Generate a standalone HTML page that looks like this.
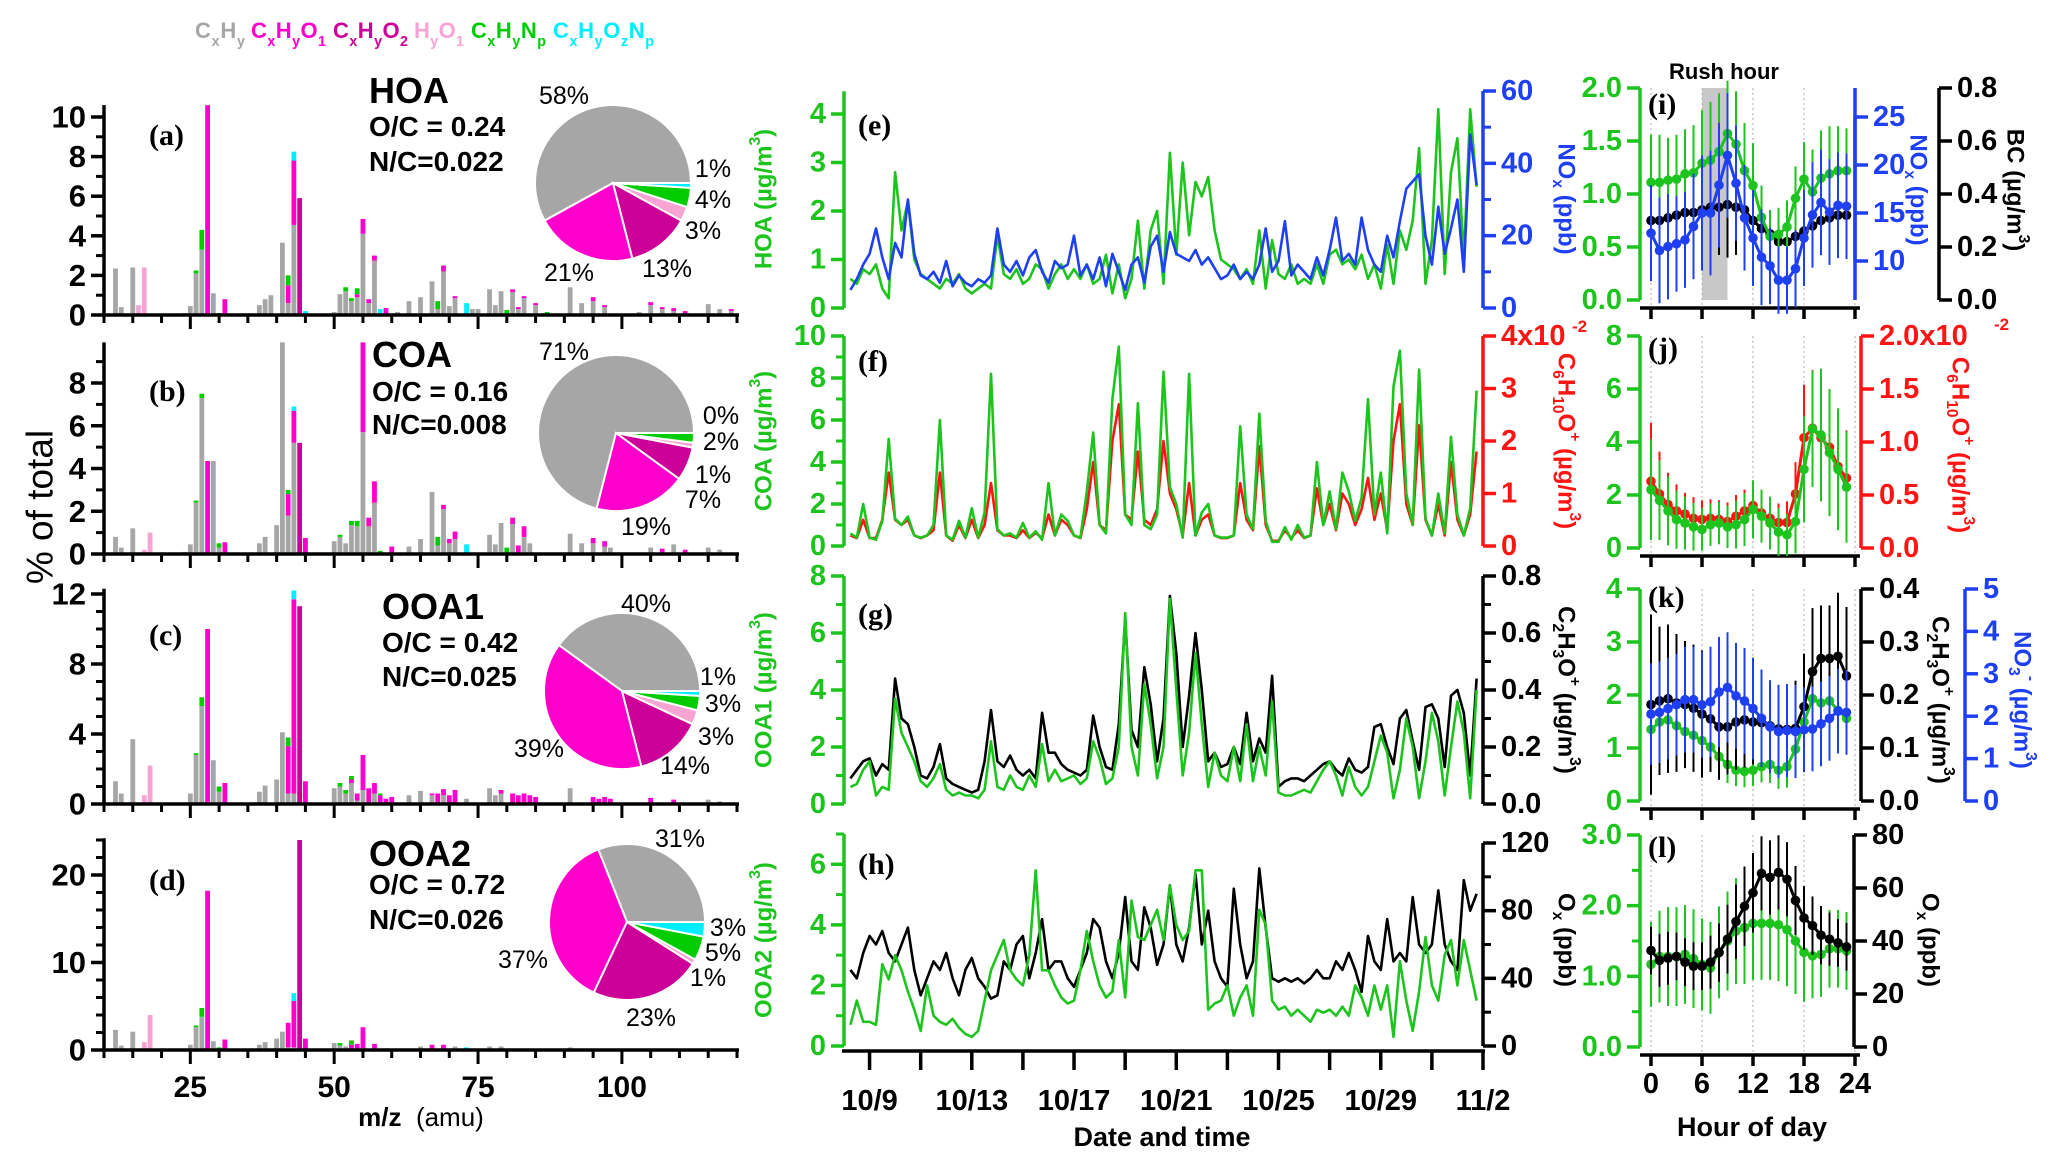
<!DOCTYPE html>
<html><head><meta charset="utf-8">
<style>
html,body{margin:0;padding:0;background:#fff;}
svg{display:block;font-family:"Liberation Sans",sans-serif;}
</style></head>
<body>
<svg id="fig" width="2067" height="1162" viewBox="0 0 2067 1162" xmlns="http://www.w3.org/2000/svg"></svg>
<script>
// ---------- DATA ----------
const famColors = ['#a6a6a6','#ff00cc','#cc0099','#f7a3d4','#00cc00','#00eeff'];
const legendHTML = ['C<tspan baseline-shift="sub" font-size="65%">x</tspan>H<tspan baseline-shift="sub" font-size="65%">y</tspan>',
 'C<tspan baseline-shift="sub" font-size="65%">x</tspan>H<tspan baseline-shift="sub" font-size="65%">y</tspan>O<tspan baseline-shift="sub" font-size="65%">1</tspan>',
 'C<tspan baseline-shift="sub" font-size="65%">x</tspan>H<tspan baseline-shift="sub" font-size="65%">y</tspan>O<tspan baseline-shift="sub" font-size="65%">2</tspan>',
 'H<tspan baseline-shift="sub" font-size="65%">y</tspan>O<tspan baseline-shift="sub" font-size="65%">1</tspan>',
 'C<tspan baseline-shift="sub" font-size="65%">x</tspan>H<tspan baseline-shift="sub" font-size="65%">y</tspan>N<tspan baseline-shift="sub" font-size="65%">p</tspan>',
 'C<tspan baseline-shift="sub" font-size="65%">x</tspan>H<tspan baseline-shift="sub" font-size="65%">y</tspan>O<tspan baseline-shift="sub" font-size="65%">z</tspan>N<tspan baseline-shift="sub" font-size="65%">p</tspan>'];

// spectra rows: [m/z, CxHy, CxHyO1, CxHyO2, HyO1, CxHyNp, CxHyOzNp]
const specHOA = [[12,2.35,0,0,0,0,0],[13,0.4,0,0,0,0,0],[15,2.4,0,0,0,0,0],[16,0,0,0,0.5,0,0],[17,0,0,0,2.4,0,0],[24,0.1,0,0,0,0,0],[25,0.45,0,0,0,0,0],[26,2.1,0,0,0,0.15,0],[27,3.3,0,0,0,1.0,0],[28,0,10.6,0,0,0,0],[29,1.1,0,0,0,0,0],[30,0,0,0,0,0.1,0],[31,0,0.8,0,0,0,0],[37,0.5,0,0,0,0,0],[38,0.8,0,0,0,0,0],[39,1.0,0,0,0,0,0],[41,3.65,0,0,0,0,0],[42,0.6,0.9,0,0,0.5,0],[43,4.55,3.25,0,0,0,0.45],[44,0,0,5.9,0,0,0],[45,0,0,0,0,0,0.2],[50,0.15,0,0,0,0,0],[51,1.05,0,0,0,0,0],[52,1.2,0,0,0,0.2,0],[53,0.7,0,0,0,0.15,0],[54,0.9,0.15,0,0,0.3,0],[55,4.1,0.75,0,0,0,0],[56,0.6,0.2,0,0,0,0],[57,2.75,0.25,0,0,0,0],[58,0,0,0,0,0,0.3],[59,0,0.35,0,0,0,0],[61,0.15,0,0,0,0,0],[63,0.7,0,0,0,0,0],[65,0.9,0,0,0,0,0],[67,1.7,0,0,0,0,0],[68,0.3,0,0,0,0.4,0],[69,2.2,0.3,0,0,0,0],[70,0.45,0,0,0,0,0],[71,0.85,0.1,0,0,0,0],[73,0,0,0,0,0,0.6],[74,0.3,0,0,0,0,0],[75,0.3,0,0,0,0,0],[77,1.3,0,0,0,0,0],[78,0.5,0,0,0,0,0],[79,1.2,0,0,0,0,0],[80,0,0,0,0,0.25,0],[81,1.15,0.15,0,0,0,0],[82,0.3,0.1,0,0,0,0],[83,0.85,0.1,0,0,0,0],[85,0.5,0.1,0,0,0,0],[87,0,0,0,0,0.15,0],[91,1.4,0,0,0,0,0],[93,0.6,0,0,0,0,0],[95,0.7,0.2,0,0,0,0],[97,0.4,0.1,0,0,0,0],[103,0.15,0,0,0,0,0],[105,0.5,0.15,0,0,0,0],[107,0.3,0.1,0,0,0,0],[109,0.2,0.15,0,0,0,0],[111,0.1,0.1,0,0,0,0],[115,0.55,0,0,0,0,0],[117,0.3,0,0,0,0,0],[119,0.2,0.1,0,0,0,0]];
const specCOA = [[12,0.8,0,0,0,0,0],[13,0.3,0,0,0,0,0],[15,1.2,0,0,0,0,0],[17,0,0,0,0.2,0,0],[18,0,0,0,1.0,0,0],[24,0.1,0,0,0,0,0],[25,0.45,0,0,0,0,0],[26,2.4,0,0,0,0.1,0],[27,7.3,0,0,0,0.2,0],[28,0,4.35,0,0,0,0],[29,4.35,0,0,0,0,0],[30,0.3,0,0,0,0.2,0],[31,0,0.55,0,0,0,0],[37,0.5,0,0,0,0,0],[38,0.8,0,0,0,0,0],[40,1.35,0,0,0,0,0],[41,10,0,0,0,0,0],[42,1.8,1.0,0,0,0.2,0],[43,5.2,1.5,0,0,0,0.2],[44,0,0,5.2,0,0,0],[45,0,0.75,0,0,0,0],[50,0.6,0,0,0,0,0],[51,0.8,0,0,0,0.1,0],[52,0.5,0,0,0,0,0],[53,1.35,0,0,0,0.2,0],[54,1.3,0,0,0,0.25,0],[55,5.7,4.3,0,0,0,0],[56,1.3,0.4,0,0,0,0],[57,2.4,1.0,0,0,0,0],[58,0,0,0,0,0.15,0],[60,0,0.35,0,0,0,0],[63,0.35,0,0,0,0,0],[65,0.7,0,0,0,0,0],[67,2.9,0,0,0,0,0],[68,0.4,0,0,0,0.4,0],[69,2.1,0.2,0,0,0,0],[70,0.5,0.2,0,0,0,0],[71,0.7,0.35,0,0,0,0],[73,0,0,0,0,0,0.45],[77,0.9,0,0,0,0,0],[78,0.45,0,0,0,0,0],[79,1.45,0,0,0,0,0],[80,0,0,0,0,0.3,0],[81,1.4,0.3,0,0,0,0],[82,0,0.4,0,0,0,0],[83,0.8,0.5,0,0,0,0],[84,0.5,0,0,0,0,0],[91,0.95,0,0,0,0,0],[93,0.5,0,0,0,0,0],[95,0.5,0.25,0,0,0,0],[97,0.35,0.25,0,0,0,0],[98,0.3,0,0,0,0,0],[105,0.3,0,0,0,0,0],[107,0,0.25,0,0,0,0],[109,0.45,0,0,0,0,0],[111,0,0.2,0,0,0,0],[115,0.3,0,0,0,0,0],[117,0.2,0,0,0,0,0]];
const specOOA1 = [[12,1.3,0,0,0,0,0],[13,0.6,0,0,0,0,0],[15,3.7,0,0,0,0,0],[17,0,0,0,0.5,0,0],[18,0,0,0,2.2,0,0],[24,0.1,0,0,0,0,0],[25,0.6,0,0,0,0,0],[26,2.8,0,0,0,0.1,0],[27,5.6,0,0,0,0.5,0],[28,0,10.0,0,0,0,0],[29,2.5,0,0,0,0,0],[30,0.7,0,0,0,0.3,0],[31,0,1.2,0,0,0,0],[37,0.7,0,0,0,0,0],[38,1.05,0,0,0,0,0],[40,1.4,0,0,0,0,0],[41,4.1,0,0,0,0,0],[42,0.6,2.7,0,0,0.5,0],[43,0.6,11.1,0,0,0,0.5],[44,0,0,11.3,0,0,0],[45,0,1.3,0,0,0,0],[50,0.9,0,0,0,0,0],[51,1.0,0,0,0,0.2,0],[52,0.6,0,0,0,0.2,0],[53,1.2,0.2,0,0,0.2,0],[54,0.2,0.4,0,0,0,0],[55,0.8,2.0,0,0,0,0],[56,0,0.9,0,0,0,0],[57,0.6,0.6,0,0,0,0],[58,0,0.5,0,0,0.1,0],[59,0,0.3,0,0,0,0],[60,0,0.4,0,0,0,0],[63,0.5,0,0,0,0,0],[65,0.75,0,0,0,0,0],[67,0.5,0.1,0,0,0,0],[68,0,0.6,0,0,0,0],[69,0.5,0.35,0,0,0,0],[70,0,0.5,0,0,0,0],[71,0,0.8,0,0,0,0],[73,0.3,0,0,0,0,0],[77,0.9,0,0,0,0,0],[78,0.5,0,0,0,0,0],[79,0.6,0.2,0,0,0,0],[81,0,0.6,0,0,0,0],[82,0,0.5,0,0,0,0],[83,0,0.6,0,0,0,0],[84,0,0.5,0,0,0,0],[85,0,0.4,0,0,0,0],[91,0.9,0,0,0,0,0],[95,0,0.4,0,0,0,0],[96,0,0.3,0,0,0,0],[97,0,0.4,0,0,0,0],[98,0,0.3,0,0,0,0],[105,0,0.35,0,0,0,0],[109,0,0.25,0,0,0,0],[115,0.25,0,0,0,0,0],[117,0.15,0,0,0,0,0]];
const specOOA2 = [[12,2.3,0,0,0,0,0],[13,0.5,0,0,0,0,0],[15,2.1,0,0,0,0,0],[17,0,0,0,0.9,0,0],[18,0,0,0,4.0,0,0],[25,0.6,0,0,0,0,0],[26,2.6,0,0,0,0.2,0],[27,3.8,0,0,0,1.0,0],[28,0,18.2,0,0,0,0],[29,1.0,0,0,0,0,0],[30,0,0,0,0,0.3,0],[31,0,1.2,0,0,0,0],[37,0.6,0,0,0,0,0],[38,0.9,0,0,0,0,0],[40,1.3,0,0,0,0,0],[41,2.1,0,0,0,0,0],[42,0.3,2.8,0,0,0,0],[43,0.3,5.3,0,0,0,0.9],[44,0,0,24,0,0,0],[45,0,1.3,0,0,0,0],[50,0.8,0,0,0,0,0],[51,0.5,0,0,0,0.3,0],[52,0.4,0,0,0,0,0],[53,0,0.6,0,0,0.5,0],[54,0,0.7,0,0,0,0],[55,0.2,2.4,0,0,0,0],[57,0,0.7,0,0,0,0],[59,0.2,0,0,0,0,0],[65,0.4,0,0,0,0,0],[67,0,0.6,0,0,0,0],[69,0,0.6,0,0,0,0],[71,0.4,0,0,0,0,0],[73,0,0,0,0,0,0.3],[77,0.4,0,0,0,0,0],[79,0.4,0,0,0,0,0],[91,0.3,0,0,0,0,0]];

const pieHOA = [58,21,13,3,4,1];
const pieCOA = [71,19,7,1,2,0];
const pieOOA1 = [40,39,14,3,3,1];
const pieOOA2 = [31,37,23,1,5,3];

// time series, 6-hourly from 10/8 06:00 (day 0.25)
const hoaTS = [0.6,0.5,0.8, 0.7,0.9,0.4,0.2, 2.8,1.6,2.2,1.0, 0.7,0.6,0.5,0.4, 0.6,0.5,0.7,0.4, 0.3,0.4,0.5,0.4, 1.5,0.7,0.6,0.8, 0.5,0.6,0.9,0.8, 0.4,0.7,0.9,0.6, 0.8,0.6,0.9,0.5, 0.6,1.1,0.3,0.9, 0.2,0.6,1.8,0.4, 1.6,2.0,0.5,3.2, 1.1,3.0,1.5,2.6, 2.3,2.7,1.6,1.0, 0.9,0.8,0.6,0.8, 0.5,1.6,0.4,1.4, 0.7,0.6,0.9,0.5, 0.6,0.5,0.9,0.5, 1.1,1.2,0.9,1.0, 0.8,1.1,0.6,0.9, 0.4,1.3,0.5,1.6, 1.2,1.8,3.3,0.5, 1.4,4.1,0.7,2.8, 3.5,1.0,4.1,2.5];
const noxTS = [5,8,12, 15,22,14,8, 18,14,30,15, 9,8,10,7, 13,6,9,7, 6,8,7,9, 22,12,10,13, 9,14,16,10, 7,13,11,12, 20,9,12,8, 14,6,15,10, 5,12,14,7, 17,20,10,21, 15,14,13,16, 12,14,11,8, 9,12,8,10, 8,12,22,10, 13,24,9,12, 10,8,14,9, 16,25,13,15, 12,25,16,12, 10,20,14,24, 33,35,37,20, 12,28,15,22, 30,10,48,34];
const coaTS = [0.6,0.4,2.0, 0.4,0.3,1.2,5.1, 1.3,1.0,1.4,0.5, 0.4,0.5,1.0,6.0, 0.5,0.3,1.2,0.4, 1.8,0.4,1.6,8.2, 0.8,0.5,0.6,0.4, 1.1,0.4,0.7,0.3, 3.0,0.5,1.5,1.2, 0.5,0.4,2.6,5.4, 1.0,0.6,7.0,9.5, 1.5,1.0,6.8,1.0, 0.8,1.5,8.3,2.8, 2.0,0.4,8.2,0.5, 1.6,2.0,0.5,0.4, 0.4,0.5,5.7,1.5, 0.8,6.3,1.2,0.2, 0.2,0.9,0.3,1.0, 0.4,0.5,4.0,1.0, 2.6,0.8,3.5,2.6, 1.2,2.3,7.0,1.5, 3.5,0.6,7.6,9.3, 2.5,1.0,8.4,1.3, 0.5,2.5,0.6,5.2, 1.5,0.5,1.8,7.4];
const c6TS = [0.2,0.15,0.5, 0.15,0.15,0.5,1.4, 0.5,0.4,0.5,0.2, 0.15,0.2,0.3,1.4, 0.2,0.1,0.4,0.15, 0.5,0.15,0.4,1.2, 0.3,0.2,0.2,0.15, 0.3,0.15,0.25,0.15, 0.6,0.2,0.5,0.4, 0.2,0.15,0.7,1.6, 0.4,0.3,2.0,2.7, 0.6,0.5,1.8,0.5, 0.4,0.7,2.0,1.0, 0.7,0.2,1.2,0.2, 0.5,0.6,0.2,0.15, 0.15,0.2,1.2,0.5, 0.3,1.9,0.4,0.1, 0.1,0.3,0.15,0.3, 0.15,0.2,1.1,0.4, 0.8,0.3,1.0,0.8, 0.4,0.7,1.3,0.5, 1.0,0.3,2.0,2.7, 0.8,0.4,2.3,0.5, 0.2,0.8,0.2,1.6, 0.5,0.2,0.6,1.8];
const ooa1TS = [0.6,0.7,1.2, 1.5,0.3,0.6,0.5, 3.7,2.5,2.0,1.5, 0.8,0.6,0.9,1.4, 0.5,0.3,0.4,0.3, 0.3,0.2,0.5,2.2, 0.6,0.5,1.0,0.6, 0.5,1.0,0.6,2.1, 0.8,1.2,0.8,0.9, 1.0,0.7,0.9,2.2, 1.6,0.7,0.9,2.0, 6.7,2.0,1.0,4.2, 2.8,0.9,2.0,7.2, 4.0,1.0,2.5,5.3, 2.8,0.6,1.8,1.0, 0.8,2.0,0.8,2.8, 0.8,2.0,1.0,3.6, 0.4,0.3,0.3,0.4, 0.5,0.4,0.8,1.2, 1.5,1.0,0.3,1.3, 0.6,0.3,0.6,1.5, 2.4,1.8,0.2,1.2, 3.0,2.0,0.2,1.5, 3.2,2.2,0.3,2.0, 3.6,2.5,0.2,4.0];
const c2TS = [0.09,0.12,0.15, 0.16,0.10,0.14,0.12, 0.44,0.30,0.28,0.20, 0.10,0.09,0.13,0.21, 0.09,0.07,0.06,0.05, 0.04,0.05,0.15,0.33, 0.15,0.13,0.17,0.12, 0.10,0.12,0.09,0.32, 0.18,0.18,0.14,0.12, 0.11,0.10,0.12,0.31, 0.20,0.13,0.12,0.28, 0.65,0.26,0.20,0.48, 0.35,0.15,0.30,0.73, 0.53,0.20,0.38,0.60, 0.40,0.15,0.18,0.13, 0.14,0.20,0.14,0.32, 0.15,0.23,0.18,0.45, 0.06,0.08,0.09,0.09, 0.08,0.10,0.12,0.14, 0.15,0.12,0.10,0.16, 0.12,0.11,0.13,0.27, 0.28,0.20,0.14,0.30, 0.33,0.22,0.12,0.34, 0.35,0.30,0.13,0.38, 0.40,0.32,0.10,0.44];
const ooa2TS = [0.7,1.5,0.8, 0.8,0.7,2.7,2.2, 3.0,2.5,1.8,1.2, 0.5,2.0,1.0,0.8, 0.7,0.9,0.6,0.4, 0.3,0.5,1.5,2.5, 3.0,3.5,2.5,2.2, 2.0,3.0,5.8,2.5, 2.5,2.0,1.6,1.4, 1.5,2.5,3.8,2.8, 2.0,1.6,1.8,3.5, 1.6,4.8,3.6,3.5, 4.0,4.5,3.5,5.3, 4.0,3.5,3.8,5.8, 5.8,1.2,1.4,1.5, 2.0,1.0,1.6,2.0, 1.0,4.5,4.0,1.5, 1.2,1.3,1.0,1.2, 1.0,0.8,1.2,1.1, 1.2,1.0,1.3,1.0, 2.0,1.6,1.0,2.0, 1.2,2.0,0.3,2.8, 1.5,0.5,1.8,3.6, 2.0,1.5,3.0,3.5, 2.0,3.5,2.5,1.5];
const oxTS = [45,40,55, 65,60,68,55, 50,60,70,45, 30,40,50,45, 55,40,30,45, 52,40,35,28, 30,50,45,60, 65,40,55,75, 45,50,50,40, 35,45,55,75, 70,50,40,55, 88,50,45,82, 70,48,60,95, 60,50,70,102, 60,80,50,40, 35,93,60,40, 50,105,70,40, 38,40,38,40, 37,40,45,40, 40,50,45,55, 45,32,65,50, 45,75,50,55, 50,88,60,55, 60,92,60,50, 45,98,80,90];
const dateLabels = ['10/9','10/13','10/17','10/21','10/25','10/29','11/2'];

// diurnal
const hours = [0,1,2,3,4,5,6,7,8,9,10,11,12,13,14,15,16,17,18,19,20,21,22,23];
const iHOA = [1.11,1.11,1.13,1.14,1.19,1.20,1.29,1.32,1.40,1.57,1.47,1.22,1.08,0.78,0.60,0.62,0.69,0.96,1.14,1.02,1.15,1.19,1.22,1.22];
const iHOAerr = [0.45,0.45,0.4,0.42,0.42,0.45,0.5,0.55,0.55,0.5,0.5,0.45,0.4,0.3,0.25,0.25,0.25,0.3,0.35,0.4,0.45,0.45,0.42,0.4];
const iBC = [0.30,0.30,0.31,0.32,0.33,0.33,0.34,0.35,0.35,0.36,0.35,0.34,0.30,0.27,0.25,0.22,0.22,0.24,0.26,0.28,0.30,0.31,0.32,0.32];
const iBCerr = [0.1,0.1,0.1,0.1,0.12,0.12,0.14,0.15,0.18,0.2,0.18,0.14,0.1,0.08,0.06,0.05,0.05,0.06,0.08,0.1,0.12,0.12,0.12,0.12];
const iNOx = [12.9,11.1,11.5,11.8,12.2,13.6,15.0,15.0,17.9,21.0,18.1,14.5,12.4,10.4,9.5,8.0,8.0,9.2,12.4,14.8,16.1,15.1,15.8,15.7];
const iNOxErr = [5,5.5,5.5,5,5,5.5,6,6.5,6.5,6.5,6,5.5,5,5,4,3.5,3.5,4,5,5.5,5.5,5.5,5.5,5.5];
const jCOA = [2.2,1.8,1.4,1.07,0.94,0.8,0.7,0.88,0.94,0.8,0.88,1.07,1.46,1.2,0.94,0.6,0.5,1.0,2.97,4.5,4.27,3.6,2.97,2.3];
const jCOAerr = [1.9,1.5,1.3,1.1,1.0,0.9,0.8,0.8,0.8,0.8,0.9,1.0,1.1,1.0,1.0,0.9,0.8,1.2,2.0,2.2,2.5,2.4,2.3,2.1];
const jC6 = [0.63,0.51,0.41,0.35,0.32,0.28,0.27,0.28,0.27,0.25,0.30,0.35,0.40,0.33,0.28,0.24,0.24,0.51,1.04,1.13,1.04,0.95,0.77,0.66];
const jC6err = [0.55,0.4,0.3,0.25,0.2,0.2,0.18,0.18,0.18,0.18,0.2,0.2,0.2,0.2,0.2,0.18,0.2,0.3,0.5,0.55,0.6,0.55,0.5,0.45];
const kOOA1 = [1.35,1.49,1.53,1.42,1.31,1.24,1.14,1.02,0.84,0.69,0.58,0.56,0.58,0.65,0.69,0.58,0.65,0.98,1.49,1.93,1.85,1.89,1.71,1.56];
const kOOA1err = [0.4,0.45,0.45,0.45,0.45,0.45,0.45,0.45,0.4,0.35,0.3,0.3,0.3,0.3,0.35,0.35,0.4,0.45,0.5,0.55,0.55,0.5,0.45,0.4];
const kC2 = [0.182,0.189,0.193,0.185,0.182,0.175,0.164,0.155,0.140,0.140,0.149,0.153,0.149,0.148,0.142,0.136,0.135,0.137,0.178,0.244,0.269,0.269,0.273,0.236];
const kC2err = [0.17,0.14,0.14,0.13,0.12,0.12,0.12,0.1,0.1,0.09,0.09,0.09,0.08,0.08,0.08,0.08,0.08,0.09,0.1,0.12,0.1,0.1,0.12,0.13];
const kNO3 = [2.05,2.09,2.18,2.27,2.39,2.39,2.27,2.34,2.57,2.68,2.48,2.36,2.18,1.95,1.75,1.64,1.66,1.64,1.68,1.70,1.82,1.95,2.12,2.09];
const kNO3err = [1.2,1.2,1.2,1.2,1.25,1.25,1.25,1.3,1.3,1.3,1.25,1.25,1.2,1.15,1.1,1.1,1.1,1.1,1.0,1.0,1.0,1.0,1.0,1.0];
const lOOA2 = [1.17,1.28,1.28,1.28,1.31,1.25,1.17,1.12,1.34,1.50,1.64,1.69,1.75,1.75,1.75,1.73,1.66,1.50,1.34,1.29,1.31,1.39,1.39,1.36];
const lOOA2err = [0.6,0.65,0.7,0.7,0.7,0.7,0.65,0.65,0.65,0.7,0.75,0.8,0.8,0.8,0.8,0.8,0.8,0.75,0.7,0.6,0.6,0.55,0.55,0.55];
const lOx = [36.4,32.7,33.5,34.2,32,30.5,30.5,32,35.6,40.7,47.3,53.1,58.2,65.5,64,65.9,63.3,55.3,48.7,45.8,42.2,40.7,39.3,37.8];
const lOxErr = [9,10,10,9,9,9,9,10,11,13,14,15,15,14,14,14,14,13,12,11,11,10,9,9];

// ---------- HELPERS ----------
const NS='http://www.w3.org/2000/svg';
const svg=document.getElementById('fig');
const GREEN='#1ec41e', BLUE='#1f40f2', RED='#ff1414', BLACK='#000';
function mk(tag,attrs,parent){const e=document.createElementNS(NS,tag);for(const k in attrs)e.setAttribute(k,attrs[k]);(parent||svg).appendChild(e);return e;}
function lin(d0,d1,r0,r1){return v=>r0+(v-d0)*(r1-r0)/(d1-d0);}
function tx(parent,x,y,html,size,o){o=o||{};const t=mk('text',{x:x,y:y,'font-size':size,'font-weight':o.w||'bold',fill:o.fill||'#000','text-anchor':o.anchor||'start','font-family':o.fam||'"Liberation Sans",sans-serif'},parent);if(o.dom)t.setAttribute('dominant-baseline',o.dom);if(o.rot!==undefined)t.setAttribute('transform','rotate('+o.rot+' '+x+' '+y+')');if(o.len)t.setAttribute('textLength',o.len);t.innerHTML=html;return t;}
function grp(){return mk('g',{});}

function yAxis(g,x,sc,lineLo,lineHi,majors,labels,side,color,minors,fs){
  const ln=mk('line',{x1:x,x2:x,y1:sc(lineLo),y2:sc(lineHi),stroke:color,'stroke-width':3.5},g);
  
  
  const dir=side==='L'?-1:1;
  majors.forEach((v,i)=>{
    const t=mk('line',{x1:x,x2:x+dir*13,y1:sc(v),y2:sc(v),stroke:color,'stroke-width':3.5},g);
    
    
    if(labels&&labels[i]!==''){
      const lb=tx(g,x+dir*18,sc(v),labels[i],fs||26,{fill:color,anchor:side==='L'?'end':'start',dom:'central'});
      
      
    }
  });
  (minors||[]).forEach(v=>{
    const t=mk('line',{x1:x,x2:x+dir*8,y1:sc(v),y2:sc(v),stroke:color,'stroke-width':3},g);
    
    
  });
}

// ---------- LEGEND ----------
const lg=grp();


const legX=[195,251,333,414,471,553], legW=[50,75,75,50,75,101];
legendHTML.forEach((h,i)=>{
  const t=tx(lg,legX[i],38,h,22,{fill:famColors[i],len:legW[i]});
  
  
});

// ---------- MASS SPECTRA ----------
const xM=lin(10,120,104,737);
const specPanels=[
 {spec:specHOA,pie:pieHOA,ymax:10,top:10.6,majors:[0,2,4,6,8,10],minors:[1,3,5,7,9],letter:'(a)',name:'HOA',oc:'O/C = 0.24',nc:'N/C=0.022',lx:369,ly:[103,136,171],letY:145,pc:[613,183],
  lp:[[564,96],[569,273],[667,269],[703,231],[713,200],[713,169]]},
 {spec:specCOA,pie:pieCOA,ymax:8,top:9.9,majors:[0,2,4,6,8],minors:[1,3,5,7,9],letter:'(b)',name:'COA',oc:'O/C = 0.16',nc:'N/C=0.008',lx:372,ly:[367,401,434],letY:401,pc:[616,433],
  lp:[[564,352],[646,527],[703,500],[713,475],[721,442],[721,416]]},
 {spec:specOOA1,pie:pieOOA1,ymax:12,top:12.3,majors:[0,4,8,12],minors:[1,2,3,5,6,7,9,10,11],letter:'(c)',name:'OOA1',oc:'O/C = 0.42',nc:'N/C=0.025',lx:382,ly:[619,652,686],letY:645,pc:[622,691],
  lp:[[646,604],[539,749],[685,766],[716,737],[723,704],[718,677]]},
 {spec:specOOA2,pie:pieOOA2,ymax:20,top:24.2,majors:[0,10,20],minors:[2,4,6,8,12,14,16,18,22,24],letter:'(d)',name:'OOA2',oc:'O/C = 0.72',nc:'N/C=0.026',lx:369,ly:[866,894,929],letY:890,pc:[627,922],
  lp:[[680,839],[523,960],[651,1018],[708,978],[723,953],[728,928]]}
];
const yPx={0:[315,117],1:[554,383],2:[804,594],3:[1050,875]};
specPanels.forEach((p,pi)=>{
  const g=grp();
  
  
  const ys=lin(0,p.ymax,yPx[pi][0],yPx[pi][1]);
  const topPx=ys(p.top);
  p.spec.forEach(r=>{
    let acc=0;
    for(let k=1;k<=6;k++){
      if(r[k]<=0)continue;
      const yb=Math.max(ys(acc),topPx), yt=Math.max(ys(acc+r[k]),topPx);
      acc+=r[k];
      if(yb-yt<=0)continue;
      const b=mk('rect',{x:xM(r[0])-2.4,y:yt,width:4.8,height:yb-yt,fill:famColors[k-1]},g);
      
      
    }
  });
  yAxis(g,104,ys,0,p.top,p.majors,p.majors.map(String),'L',BLACK,p.minors.filter(v=>v<=p.top),31);
  const xl=mk('line',{x1:102,x2:739,y1:ys(0),y2:ys(0),stroke:'#000','stroke-width':3.5},g);
  
  
  for(let m=10;m<=120;m+=5){
    const maj=(m%25===0);
    const t=mk('line',{x1:xM(m),x2:xM(m),y1:ys(0),y2:ys(0)+(maj?14:8),stroke:'#000','stroke-width':3},g);
    
    
  }
  const lt=tx(g,149,p.letY,p.letter,30,{fam:'"Liberation Serif",serif'});
  
  
  const nt=tx(g,p.lx,p.ly[0],p.name,36);
  
  
  const oc=tx(g,p.lx,p.ly[1],p.oc,28);
  
  
  const nc=tx(g,p.lx,p.ly[2],p.nc,28);
  
  
  const [cx,cy]=p.pc, R=78;
  let a0=0;
  const tot=p.pie.reduce((s,v)=>s+v,0);
  p.pie.forEach((v,k)=>{
    const a1=a0+v/tot*2*Math.PI;
    if(v>0){
      const x0=cx+R*Math.cos(a0), y0=cy-R*Math.sin(a0), x1=cx+R*Math.cos(a1), y1=cy-R*Math.sin(a1);
      const large=(a1-a0)>Math.PI?1:0;
      const s=mk('path',{d:`M${cx},${cy}L${x0},${y0}A${R},${R} 0 ${large} 0 ${x1},${y1}Z`,fill:famColors[k],stroke:'#fff','stroke-width':2},g);
      
      
    }
    const pl=tx(g,p.lp[k][0],p.lp[k][1],v+'%',25,{w:'normal',anchor:'middle',dom:'central'});
    
    
    a0=a1;
  });
});
[25,50,75,100].forEach(m=>{
  const t=tx(svg,xM(m),1097,String(m),30,{anchor:'middle'});
  
  
});
const mzT=tx(svg,421,1126,'m/z <tspan font-weight="normal">&#160;(amu)</tspan>',26,{anchor:'middle'});


const pct=tx(svg,40,507,'% of total',37,{w:'normal',anchor:'middle',rot:-90,dom:'central'});



// ---------- TIME SERIES ----------
const xT=lin(0,25,844,1483);
function tsPath(g,vals,ys,color,name){
  let d='';vals.forEach((v,i)=>{d+=(i?'L':'M')+xT(0.25*(i+1)).toFixed(1)+','+ys(v).toFixed(1);});
  const p=mk('path',{d:d,fill:'none',stroke:color,'stroke-width':2.6,'stroke-linejoin':'round'},g);
  
  
}
const sup3='<tspan baseline-shift="super" font-size="65%">3</tspan>';
const tsPanels=[
 {L:lin(0,4,308,114),Llo:0,Lhi:4.47,Lmaj:[0,1,2,3,4],Lmin:[],R:lin(0,60,308,91),Rlo:0,Rhi:60,Rmaj:[0,20,40,60],Rlab:['0','20','40','60'],Rmin:[10,30,50],Rcol:BLUE,
  sL:hoaTS,sR:noxTS,letter:'(e)',letY:135,lt:'HOA (µg/m'+sup3+')',rt:'NO<tspan baseline-shift="sub" font-size="65%">x</tspan> (ppb)',cy:199,second:'line-nox',first:'line-hoa'},
 {L:lin(0,10,546,336),Llo:0,Lhi:10,Lmaj:[0,2,4,6,8,10],Lmin:[1,3,5,7,9],R:lin(0,4,546,336),Rlo:0,Rhi:4,Rmaj:[0,1,2,3,4],Rlab:['0','1','2','3','4x10'],Rmin:[],Rcol:RED,
  sL:coaTS,sR:c6TS,letter:'(f)',letY:371,lt:'COA (µg/m'+sup3+')',rt:'C<tspan baseline-shift="sub" font-size="65%">6</tspan>H<tspan baseline-shift="sub" font-size="65%">10</tspan>O<tspan baseline-shift="super" font-size="65%">+</tspan> (µg/m'+sup3+')',cy:441,second:'line-c6h10o',first:'line-coa',rFirst:true},
 {L:lin(0,8,804,576),Llo:0,Lhi:8,Lmaj:[0,2,4,6,8],Lmin:[1,3,5,7],R:lin(0,0.8,804,576),Rlo:0,Rhi:0.8,Rmaj:[0,0.2,0.4,0.6,0.8],Rlab:['0.0','0.2','0.4','0.6','0.8'],Rmin:[0.1,0.3,0.5,0.7],Rcol:BLACK,
  sL:ooa1TS,sR:c2TS,letter:'(g)',letY:624,lt:'OOA1 (µg/m'+sup3+')',rt:'C<tspan baseline-shift="sub" font-size="65%">2</tspan>H<tspan baseline-shift="sub" font-size="65%">3</tspan>O<tspan baseline-shift="super" font-size="65%">+</tspan> (µg/m'+sup3+')',cy:690,second:'line-c2h3o',first:'line-ooa1',rFirst:true},
 {L:lin(0,7,1046,834),Llo:0,Lhi:7,Lmaj:[0,2,4,6],Lmin:[1,3,5,7],R:lin(0,120,1046,843),Rlo:0,Rhi:120,Rmaj:[0,40,80,120],Rlab:['0','40','80','120'],Rmin:[20,60,100],Rcol:BLACK,
  sL:ooa2TS,sR:oxTS,letter:'(h)',letY:874,lt:'OOA2 (µg/m'+sup3+')',rt:'O<tspan baseline-shift="sub" font-size="65%">x</tspan> (ppb)',cy:940,second:'line-ox',first:'line-ooa2',rFirst:true}
];
tsPanels.forEach(p=>{
  const g=grp();
  
  
  if(p.rFirst){tsPath(g,p.sR,p.R,p.Rcol,p.second);tsPath(g,p.sL,p.L,GREEN,p.first);}
  else{tsPath(g,p.sL,p.L,GREEN,p.first);tsPath(g,p.sR,p.R,p.Rcol,p.second);}
  yAxis(g,844,p.L,p.Llo,p.Lhi,p.Lmaj,p.Lmaj.map(String),'L',GREEN,p.Lmin,29);
  yAxis(g,1483,p.R,p.Rlo,p.Rhi,p.Rmaj,p.Rlab,'R',p.Rcol,p.Rmin,29);
  const lt=tx(g,858,p.letY,p.letter,30,{fam:'"Liberation Serif",serif'});
  
  
  const la=tx(g,764,p.cy,p.lt,24,{fill:GREEN,anchor:'middle',rot:-90,dom:'central'});
  
  
  const ra=tx(g,1566,p.cy,p.rt,24,{fill:p.Rcol,anchor:'middle',rot:90,dom:'central'});
  
  
});
const fSup=tx(svg,1572,332,'-2',17,{fill:RED});


const tAx=mk('line',{x1:842,x2:1485,y1:1051,y2:1051,stroke:'#000','stroke-width':3.5});


for(let d=1;d<=25;d+=2){
  const t=mk('line',{x1:xT(d),x2:xT(d),y1:1051,y2:1070,stroke:'#000','stroke-width':3.5});
  
  
}
dateLabels.forEach((s,i)=>{
  const t=tx(svg,xT(1+4*i),1110,s,29,{anchor:'middle'});
  
  
});
const dt=tx(svg,1162,1146,'Date and time',27,{anchor:'middle'});



// ---------- DIURNAL ----------
const xH=lin(0,24,1651,1855);
function diurnal(g,vals,errs,ys,color,name){
  vals.forEach((v,i)=>{
    const e=mk('line',{x1:xH(hours[i]),x2:xH(hours[i]),y1:ys(v-errs[i]),y2:ys(v+errs[i]),stroke:color,'stroke-width':2},g);
    
    
  });
  let d='';vals.forEach((v,i)=>{d+=(i?'L':'M')+xH(hours[i]).toFixed(1)+','+ys(v).toFixed(1);});
  const p=mk('path',{d:d,fill:'none',stroke:color,'stroke-width':3},g);
  
  
  vals.forEach((v,i)=>{
    const c=mk('circle',{cx:xH(hours[i]),cy:ys(v),r:4.8,fill:color},g);
    
    
  });
}
function hourAxis(g,y,top){
  [0,6,12,18,24].forEach(h=>{
    const gl=mk('line',{x1:xH(h),x2:xH(h),y1:top,y2:y,stroke:'#bbb','stroke-width':1.2,'stroke-dasharray':'2,3'},g);
    
    
    const t=mk('line',{x1:xH(h),x2:xH(h),y1:y,y2:y+11,stroke:'#000','stroke-width':3.5},g);
    
    
  });
  const a=mk('line',{x1:1640,x2:1860,y1:y,y2:y,stroke:'#000','stroke-width':3.5},g);
  
  
}
// panel i
const gi=grp();


const rush=mk('rect',{x:xH(6),y:88,width:xH(9)-xH(6),height:212,fill:'#c8c8c8'},gi);


hourAxis(gi,308,88);
const iG=lin(0,2,300,88), iB=lin(10,25,261,117), iK=lin(0,0.8,300,88);
diurnal(gi,iBC,iBCerr,iK,BLACK,'line-bc');
diurnal(gi,iHOA,iHOAerr,iG,GREEN,'line-hoa-diurnal');
diurnal(gi,iNOx,iNOxErr,iB,BLUE,'line-nox-diurnal');
yAxis(gi,1640,iG,0,2,[0,0.5,1,1.5,2],['0.0','0.5','1.0','1.5','2.0'],'L',GREEN,[],29);
yAxis(gi,1855,iB,10,25,[10,15,20,25],['10','15','20','25'],'R',BLUE,[],29);
yAxis(gi,1939,iK,0,0.8,[0,0.2,0.4,0.6,0.8],['0.0','0.2','0.4','0.6','0.8'],'R',BLACK,[],29);
const bx=mk('line',{x1:1855,x2:1855,y1:88,y2:300,stroke:BLUE,'stroke-width':3.5},gi);


const rh=tx(gi,1724,79,'Rush hour',22,{anchor:'middle'});


const li=tx(gi,1648,114,'(i)',30,{fam:'"Liberation Serif",serif'});


const tiB=tx(gi,1918,190,'NO<tspan baseline-shift="sub" font-size="65%">x</tspan> (ppb)',24,{fill:BLUE,anchor:'middle',rot:90,dom:'central'});


const tiK=tx(gi,2015,190,'BC (µg/m'+sup3+')',24,{anchor:'middle',rot:90,dom:'central'});



// panel j
const gj=grp();


hourAxis(gj,556,336);
const jG=lin(0,8,548,336), jR=lin(0,2,548,336);
diurnal(gj,jC6,jC6err,jR,RED,'line-c6h10o-diurnal');
diurnal(gj,jCOA,jCOAerr,jG,GREEN,'line-coa-diurnal');
yAxis(gj,1640,jG,0,8,[0,2,4,6,8],['0','2','4','6','8'],'L',GREEN,[],29);
yAxis(gj,1861,jR,0,2,[0,0.5,1,1.5,2],['0.0','0.5','1.0','1.5','2.0x10'],'R',RED,[],29);
const jsup=tx(gj,1994,330,'-2',17,{fill:RED});


const lj=tx(gj,1648,358,'(j)',30,{fam:'"Liberation Serif",serif'});


const tj=tx(gj,1960,445,'C<tspan baseline-shift="sub" font-size="65%">6</tspan>H<tspan baseline-shift="sub" font-size="65%">10</tspan>O<tspan baseline-shift="super" font-size="65%">+</tspan> (µg/m'+sup3+')',24,{fill:RED,anchor:'middle',rot:90,dom:'central'});



// panel k
const gk=grp();


hourAxis(gk,809,589);
const kG=lin(0,4,801,589), kK=lin(0,0.4,801,589), kB=lin(0,5,801,589);
diurnal(gk,kOOA1,kOOA1err,kG,GREEN,'line-ooa1-diurnal');
diurnal(gk,kC2,kC2err,kK,BLACK,'line-c2h3o-diurnal');
diurnal(gk,kNO3,kNO3err,kB,BLUE,'line-no3-diurnal');
yAxis(gk,1640,kG,0,4,[0,1,2,3,4],['0','1','2','3','4'],'L',GREEN,[],29);
yAxis(gk,1861,kK,0,0.4,[0,0.1,0.2,0.3,0.4],['0.0','0.1','0.2','0.3','0.4'],'R',BLACK,[],29);
yAxis(gk,1965,kB,0,5,[0,1,2,3,4,5],['0','1','2','3','4','5'],'R',BLUE,[],29);
const lk=tx(gk,1648,607,'(k)',30,{fam:'"Liberation Serif",serif'});


const tkK=tx(gk,1940,700,'C<tspan baseline-shift="sub" font-size="65%">2</tspan>H<tspan baseline-shift="sub" font-size="65%">3</tspan>O<tspan baseline-shift="super" font-size="65%">+</tspan> (µg/m'+sup3+')',24,{anchor:'middle',rot:90,dom:'central'});


const tkB=tx(gk,2022,700,'NO<tspan baseline-shift="sub" font-size="65%">3</tspan><tspan baseline-shift="super" font-size="65%">-</tspan> (µg/m'+sup3+')',24,{fill:BLUE,anchor:'middle',rot:90,dom:'central'});



// panel l
const gl=grp();


hourAxis(gl,1055,835);
const lG=lin(0,3,1047,835), lK=lin(0,80,1047,835);
diurnal(gl,lOOA2,lOOA2err,lG,GREEN,'line-ooa2-diurnal');
diurnal(gl,lOx,lOxErr,lK,BLACK,'line-ox-diurnal');
yAxis(gl,1640,lG,0,3,[0,1,2,3],['0.0','1.0','2.0','3.0'],'L',GREEN,[0.5,1.5,2.5],29);
yAxis(gl,1854,lK,0,80,[0,20,40,60,80],['0','20','40','60','80'],'R',BLACK,[],29);
const ll=tx(gl,1648,857,'(l)',30,{fam:'"Liberation Serif",serif'});


const tl=tx(gl,1930,940,'O<tspan baseline-shift="sub" font-size="65%">x</tspan> (ppb)',24,{anchor:'middle',rot:90,dom:'central'});


[0,6,12,18,24].forEach(h=>{
  const t=tx(svg,xH(h),1093,String(h),29,{anchor:'middle'});
  
  
});
const hd=tx(svg,1752,1136,'Hour of day',27,{anchor:'middle'});


</script>
</body></html>
